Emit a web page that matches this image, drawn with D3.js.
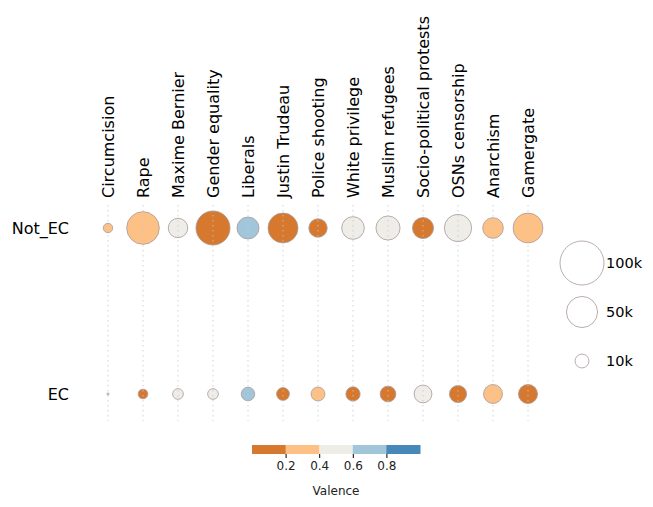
<!DOCTYPE html>
<meta charset="utf-8">
<style>
body{
	margin:0;
	background:#fff;
	font-family:"DejaVu Sans";
}
</style>
<script src="https://cdn.jsdelivr.net/npm/d3@7"></script>
<div id="chart"></div>
<script>

var topics = ["Circumcision","Rape","Maxime Bernier","Gender equality","Liberals","Justin Trudeau","Police shooting","White privilege","Muslim refugees","Socio-political protests","OSNs censorship","Anarchism","Gamergate"]
var groups = ["Not_EC","EC"]

// users per topic (bubble area)
var notEcSize = [4600, 55000, 19500, 60000, 25000, 46500, 17500, 26500, 30000, 23000, 38500, 22000, 46000]
var ecSize = [250, 4800, 5900, 5900, 9500, 8500, 10000, 10500, 12800, 16400, 15200, 18500, 18800]

// mean valence per topic (bubble colour)
var notEcValence = [0.33, 0.28, 0.45, 0.15, 0.65, 0.17, 0.18, 0.42, 0.44, 0.16, 0.41, 0.27, 0.31]
var ecValence = [0.45, 0.12, 0.45, 0.42, 0.66, 0.15, 0.25, 0.17, 0.16, 0.43, 0.14, 0.3, 0.12]

var legendValues = [100000, 50000, 10000]
var legendLabels = ["100k","50k","10k"]
var colorTicks = [0.2, 0.4, 0.6, 0.8]
var binColors = ["#d6792e","#fdc185","#eeede8","#a1c6da","#4689b8"]

var width = 653, height = 507

var svg = d3.select("#chart").append("svg")
	.attr("width",width).attr("height",height)

var x = d3.scalePoint().domain(topics).range([108,528])
var y = d3.scalePoint().domain(groups).range([228,394])
var r = d3.scaleSqrt().domain([0,100000]).range([0,22])
var color = d3.scaleThreshold().domain(colorTicks).range(binColors)

var rows = []
topics.forEach(function(t,i){
	rows.push({topic:t, group:"Not_EC", size:notEcSize[i], val:notEcValence[i]})
	rows.push({topic:t, group:"EC", size:ecSize[i], val:ecValence[i]})
})

// column labels
svg.selectAll(".colLabel").data(topics).enter().append("text")
	.attr("transform",function(d){ return "translate("+x(d)+",198) rotate(-90)" })
	.attr("dy","0.35em")
	.style("font-size","16px")
	.style("fill","#000")
	.text(function(d){ return d })

// row labels
svg.selectAll(".rowLabel").data(groups).enter().append("text")
	.attr("x",69)
	.attr("y",function(d){ return y(d) })
	.attr("dy","0.35em")
	.attr("text-anchor","end")
	.style("font-size","16px")
	.text(function(d){ return d })

// bubbles
svg.selectAll(".bubble").data(rows).enter().append("circle")
	.attr("cx",function(d){ return x(d.topic) })
	.attr("cy",function(d){ return y(d.group) })
	.attr("r",function(d){ return r(d.size) })
	.style("fill",function(d){ return color(d.val) })
	.style("stroke","#a8999a")
	.style("stroke-width",0.8)

// dotted guides on top
svg.selectAll(".guide").data(topics).enter().append("line")
	.attr("x1",function(d){ return x(d) }).attr("x2",function(d){ return x(d) })
	.attr("y1",205).attr("y2",421)
	.style("stroke","#c8c8c8")
	.style("stroke-width",1)
	.style("stroke-dasharray","1.5,3.5")
	.style("opacity",0.8)

// size legend
var ly = d3.scalePoint().domain(legendLabels).range([263,361])
var leg = svg.selectAll(".leg").data(legendValues).enter().append("g")
	.attr("transform",function(d,i){ return "translate(582,"+ly(legendLabels[i])+")" })
leg.append("circle")
	.attr("r",function(d){ return r(d) })
	.style("fill","none")
	.style("stroke","#a8999a")
	.style("stroke-width",0.8)
leg.append("text")
	.attr("x",24)
	.attr("dy","0.35em")
	.style("font-size","14.5px")
	.text(function(d,i){ return legendLabels[i] })

// colour bar
var cx = d3.scaleLinear().domain([0,1]).range([252,420])
var bins = d3.range(binColors.length)
svg.selectAll(".bin").data(bins).enter().append("rect")
	.attr("x",function(d){ return cx(d/binColors.length) })
	.attr("y",445)
	.attr("width",function(d){ return cx((d+1)/binColors.length)-cx(d/binColors.length)+0.5 })
	.attr("height",9)
	.style("fill",function(d){ return binColors[d] })

var axis = svg.append("g").attr("transform","translate(0,454)")
	.call(d3.axisBottom(cx).tickValues(colorTicks).tickSize(4).tickPadding(3.5).tickFormat(d3.format(".1f")))
axis.select(".domain").remove()
axis.selectAll("text").style("font-size","12px").style("font-family","DejaVu Sans").style("fill","#222")
axis.selectAll("line").style("stroke","#000")

svg.append("text")
	.attr("x",cx(0.5)).attr("y",495)
	.attr("text-anchor","middle")
	.style("font-size","12px")
	.style("fill","#222")
	.text("Valence")

</script>
